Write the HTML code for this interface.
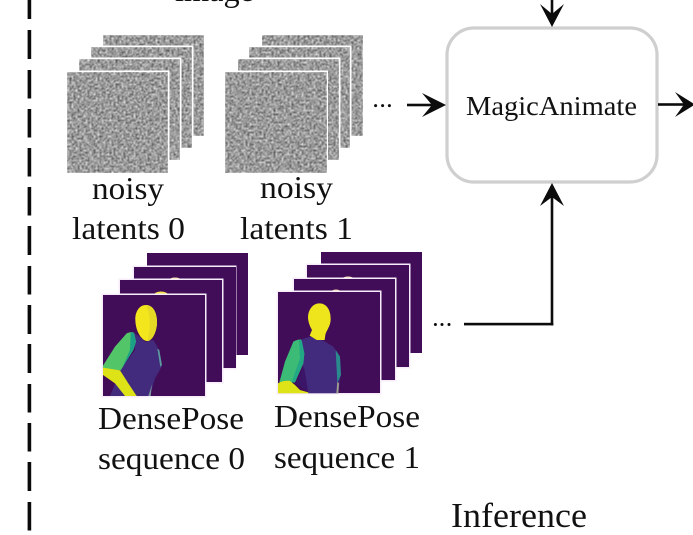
<!DOCTYPE html>
<html><head><meta charset="utf-8"><style>
html,body{margin:0;padding:0;background:#fff;width:693px;height:535px;overflow:hidden}
svg{display:block}
text{font-family:"Liberation Serif",serif;fill:#111}
</style></head><body>
<svg width="693" height="535" viewBox="0 0 693 535" xmlns="http://www.w3.org/2000/svg">
<defs>
<filter id="n" x="0" y="0" width="1" height="1" color-interpolation-filters="sRGB">
<feTurbulence type="fractalNoise" baseFrequency="0.5" numOctaves="2" seed="4"/>
<feColorMatrix type="matrix" values="1.15 0 0 0 0.03  1.15 0 0 0 0.03  1.15 0 0 0 0.03  0 0 0 0 1"/>
<feGaussianBlur stdDeviation="0.6"/>
</filter>
<filter id="b" x="-5%" y="-5%" width="110%" height="110%"><feGaussianBlur stdDeviation="0.3"/></filter>
<clipPath id="c1"><rect x="9" y="0" width="306" height="303"/></clipPath>
<clipPath id="c2"><rect x="9" y="-9" width="306" height="304"/></clipPath>
</defs>

<!-- dashed divider -->
<g fill="#0a0a0a">
<rect x="27.6" y="0" width="3.6" height="19"/><rect x="27.6" y="30" width="3.6" height="29"/><rect x="27.6" y="70" width="3.6" height="28.5"/><rect x="27.6" y="109" width="3.6" height="28.5"/><rect x="27.6" y="148" width="3.6" height="28.5"/><rect x="27.6" y="187" width="3.6" height="28.5"/><rect x="27.6" y="226" width="3.6" height="29"/><rect x="27.6" y="266" width="3.6" height="28.5"/><rect x="27.6" y="305" width="3.6" height="29"/><rect x="27.6" y="344" width="3.6" height="29"/><rect x="27.6" y="384" width="3.6" height="28.5"/><rect x="27.6" y="423" width="3.6" height="28.5"/><rect x="27.6" y="462" width="3.6" height="29"/><rect x="27.6" y="502" width="3.6" height="28.5"/>
</g>

<!-- noise stacks -->
<g>
<rect x="103" y="35" width="101" height="101" fill="#999" filter="url(#n)"/>
<rect x="89.5" y="45.5" width="104" height="104" fill="#fff"/>
<rect x="91" y="47" width="101" height="101" fill="#999" filter="url(#n)"/>
<rect x="77.5" y="57.5" width="104" height="104" fill="#fff"/>
<rect x="79" y="59" width="101" height="101" fill="#999" filter="url(#n)"/>
<rect x="65.5" y="70.5" width="104" height="104" fill="#fff"/>
<rect x="67" y="72" width="101" height="101" fill="#999" filter="url(#n)"/>

<rect x="262" y="35" width="101" height="101" fill="#999" filter="url(#n)"/>
<rect x="247.5" y="45.5" width="104" height="104" fill="#fff"/>
<rect x="249" y="47" width="101" height="101" fill="#999" filter="url(#n)"/>
<rect x="236.5" y="57.5" width="104" height="104" fill="#fff"/>
<rect x="238" y="59" width="101" height="101" fill="#999" filter="url(#n)"/>
<rect x="223.5" y="70.5" width="104.5" height="104" fill="#fff"/>
<rect x="225" y="72" width="102" height="101" fill="#999" filter="url(#n)"/>
</g>

<!-- DensePose stack 0 -->
<g filter="url(#b)">
<rect x="147" y="253" width="101" height="102" fill="#430758"/>
<ellipse cx="177" cy="268" rx="7" ry="2.5" fill="#f3e8a0"/>
<rect x="132.5" y="265.5" width="104" height="104" fill="#f6ecfa"/>
<rect x="134" y="267" width="102" height="101" fill="#430758"/>
<ellipse cx="175" cy="280" rx="6" ry="2.5" fill="#f6e79a"/>
<rect x="118.5" y="278.5" width="105" height="105" fill="#f6ecfa"/>
<rect x="120" y="280" width="102" height="102" fill="#430758"/>
<ellipse cx="161" cy="295" rx="7" ry="3.5" fill="#f6e050"/>
<rect x="101.5" y="293.5" width="105" height="104" fill="#f6ecfa"/>
<rect x="103" y="295" width="102" height="101" fill="#430758"/>
<g transform="translate(100 295) scale(.3333)" clip-path="url(#c1)">
<path d="M100 112 118 125 135 140 160 135 172 155 182 195 185 215 165 250 150 303H30L62 225 105 165Z" fill="#432c7c"/>
<path d="M172 160 178 165 186 210 181 216Z" fill="#5c9aa0"/>
<path d="M145 303 156 268 152 303Z" fill="#7a9aa0"/>
<path d="M80 115C88 111 96 110 102 113L108 140 100 165 62 226 9 222V212L45 155Z" fill="#52c569"/>
<path d="M92 112 102 113 108 140 100 165 66 220 90 165Z" fill="#1fa187"/>
<path d="M9 218 60 226 85 265 110 303H75L45 265 9 240Z" fill="#dde318"/>
<path d="M138 30C160 30 172 55 171 85 169 115 155 139 140 138 125 136 107 110 106 75 105 50 118 30 138 30Z" fill="#f4e61e"/>
<path d="M138 30C160 30 172 55 171 85 169 115 155 139 142 138 152 105 152 60 138 30Z" fill="#e6d926"/>
</g>
</g>

<!-- DensePose stack 1 -->
<g filter="url(#b)">
<rect x="321" y="252" width="101" height="101" fill="#430758"/>
<rect x="305.5" y="263.5" width="105" height="105" fill="#f6ecfa"/>
<rect x="307" y="265" width="102" height="102" fill="#430758"/>
<ellipse cx="348" cy="278" rx="5" ry="1.5" fill="#f6e8b0"/>
<rect x="292.5" y="277.5" width="104" height="104" fill="#f6ecfa"/>
<rect x="294" y="279" width="101" height="101" fill="#430758"/>
<ellipse cx="336" cy="291" rx="4" ry="1.5" fill="#e8d8a0"/>
<rect x="276.5" y="290.5" width="105" height="104" fill="#f6ecfa"/>
<rect x="278" y="292" width="102" height="101" fill="#430758"/>
<g transform="translate(275 295) scale(.3333)" clip-path="url(#c2)">
<path d="M80 133 105 125 145 137 175 155 195 185 197 240 190 295H100L80 250 85 200Z" fill="#432c7c"/>
<path d="M87 215 62 265 100 293 95 262Z" fill="#3a1668"/>
<path d="M182 165 195 185 198 240 187 262Z" fill="#2a8a8e"/>
<path d="M187 260 192 265 190 295H184Z" fill="#a0a090"/>
<path d="M55 140C62 136 70 133 78 133L88 175 85 205 60 262H13L30 200Z" fill="#3bbb75"/>
<path d="M72 134 80 135 88 175 85 205 60 262H50L75 190Z" fill="#22a884"/>
<path d="M9 265C20 258 35 256 45 258L60 270 75 285 100 292V295H9Z" fill="#dde318"/>
<path d="M133 25C155 25 168 45 167 75 166 95 153 108 151 120L149 135 125 135 104 122 111 105C99 85 96 65 102 50 108 35 118 25 133 25Z" fill="#efe51c"/>
</g>
</g>

<!-- box -->
<rect x="447" y="28" width="210" height="154" rx="27" ry="27" fill="#fff" stroke="#cfcfcf" stroke-width="3.2"/>

<!-- connectors -->
<g fill="#0c0c0c" stroke="none">
<path d="M540 4 552 27 564 4 552 14Z"/>
<rect x="550.7" y="0" width="2.6" height="16"/>
<path d="M422 93 446 105 422 117 432 105Z"/>
<rect x="407" y="103.7" width="28" height="2.6"/>
<path d="M675 92 695 104.5 675 117 684 104.5Z"/>
<rect x="658" y="103.2" width="28" height="2.6"/>
<path d="M552 183 540 206 552 197 564 206Z"/>
<rect x="550.7" y="194" width="2.6" height="131.5"/>
<rect x="464" y="322.8" width="89.3" height="2.6"/>
<circle cx="375.6" cy="105.6" r="1.5"/><circle cx="382.6" cy="105.6" r="1.5"/><circle cx="389.4" cy="105.6" r="1.5"/>
<circle cx="435.4" cy="324.5" r="1.5"/><circle cx="442" cy="324.5" r="1.5"/><circle cx="449" cy="324.5" r="1.5"/>
</g>

<!-- labels -->
<g font-size="32">
<text x="175" y="1" textLength="79" lengthAdjust="spacingAndGlyphs">image</text>
<text x="92" y="199" textLength="72" lengthAdjust="spacingAndGlyphs">noisy</text>
<text x="72" y="239" textLength="113" lengthAdjust="spacingAndGlyphs">latents 0</text>
<text x="260" y="198" textLength="73" lengthAdjust="spacingAndGlyphs">noisy</text>
<text x="240" y="239" textLength="113" lengthAdjust="spacingAndGlyphs">latents 1</text>
<text x="98" y="429" textLength="146" lengthAdjust="spacingAndGlyphs">DensePose</text>
<text x="98" y="469" textLength="147" lengthAdjust="spacingAndGlyphs">sequence 0</text>
<text x="274" y="427" textLength="146" lengthAdjust="spacingAndGlyphs">DensePose</text>
<text x="274" y="468" textLength="146" lengthAdjust="spacingAndGlyphs">sequence 1</text>
</g>
<text x="466" y="115" font-size="27" textLength="171" lengthAdjust="spacingAndGlyphs">MagicAnimate</text>
<text x="451" y="527" font-size="35" textLength="136" lengthAdjust="spacingAndGlyphs">Inference</text>
</svg>
</body></html>
